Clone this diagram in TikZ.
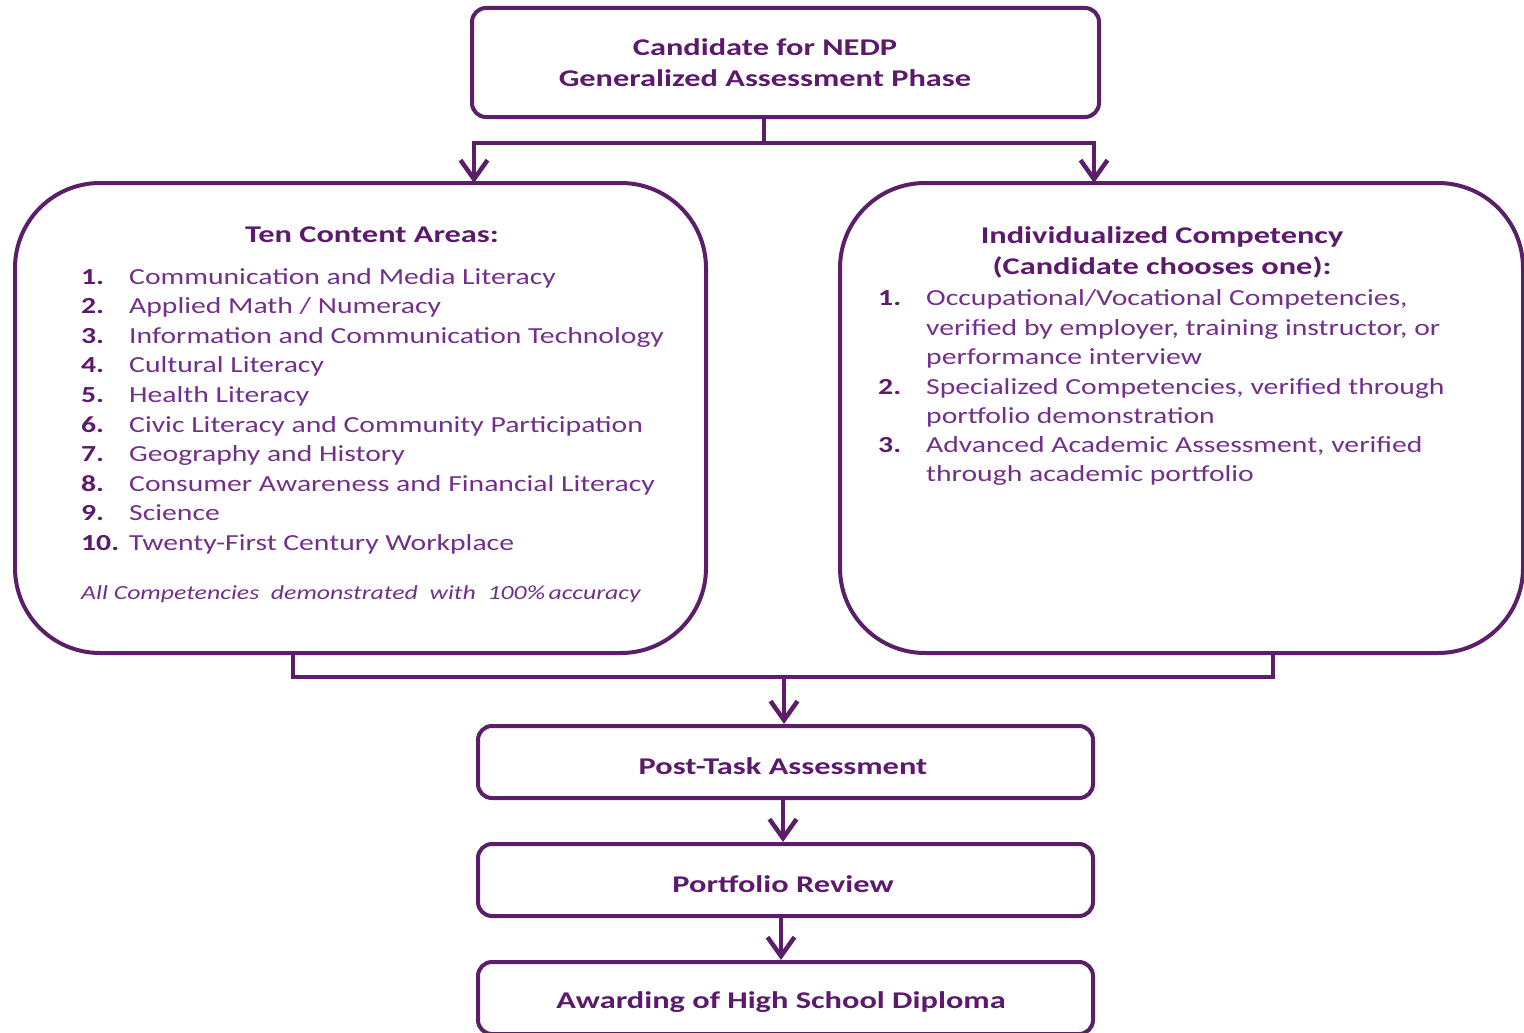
\documentclass[tikz,border=0pt]{standalone}
\usepackage{fontspec}
\setmainfont{Carlito}[FakeStretch=1.29]
\newfontfamily\boldfam{Carlito}[FakeStretch=1.35]
\usetikzlibrary{arrows.meta}
\definecolor{linec}{HTML}{5B1F69}
\definecolor{boldc}{HTML}{5C1A6C}
\definecolor{txtc}{HTML}{72308A}
\begin{document}
\begin{tikzpicture}[x=1pt,y=-1pt,
  box/.style={draw=linec,line width=4pt,rounded corners=14pt,fill=white},
  bigbox/.style={draw=linec,line width=4pt,rounded corners=85pt},
  conn/.style={draw=linec,line width=4.5pt},
  arr/.style={conn,-{Straight Barb[length=19pt,width=27pt,line width=4.5pt]}},
  btxt/.style={text=boldc,font=\fontsize{24}{30}\boldfam\bfseries,align=center,inner sep=0pt},
  ltxt/.style={text=txtc,font=\fontsize{23}{30}\selectfont,anchor=base west,inner sep=0pt},
  lnum/.style={text=boldc,font=\fontsize{23}{30}\selectfont\bfseries,anchor=base west,inner sep=0pt}
  ]
\useasboundingbox (0,0) rectangle (1524,1033);
\begin{scope}
\clip (0,0) rectangle (1524,1033);
% boxes
\node[box,minimum width=627pt,minimum height=109pt] (top) at (785.5,62.5) {};
\node[bigbox,minimum width=691pt,minimum height=470pt] (left) at (360.5,418) {};
\node[bigbox,minimum width=683pt,minimum height=470pt] (right) at (1181.5,418) {};
\node[box,minimum width=615pt,minimum height=72pt] (post) at (785.5,762) {};
\node[box,minimum width=615pt,minimum height=72pt] (port) at (785.5,880) {};
\node[box,minimum width=615pt,minimum height=72pt] (award) at (785.5,998) {};
% top text
\node[btxt] (t1) at (765,47) {Candidate for NEDP};
\node[btxt] (t2) at (765,78) {Generalized Assessment Phase};
% left text
\node[btxt] (lh) at (372,235) {Ten Content Areas:};
\foreach \n/\t [count=\i from 0] in {1./{Communication and Media Literacy},2./{Applied Math / Numeracy},3./{Information and Communication Technology},4./{Cultural Literacy},5./{Health Literacy},6./{Civic Literacy and Community Participation},7./{Geography and History},8./{Consumer Awareness and Financial Literacy},9./{Science},10./{Twenty-First Century Workplace}}{
  \node[lnum] (ln\i) at (81,{284+29.6*\i}) {\n};
  \node[ltxt] (li\i) at (129,{284+29.6*\i}) {\t};
}
\node[ltxt,font=\fontsize{20}{24}\selectfont\itshape] (lnote) at (81,599) {All Competencies\ \ demonstrated\ \ with\ \ 100\%\,accuracy};
% right text
\node[btxt] (rh1) at (1162,237) {Individualized Competency};
\node[btxt] (rh2) at (1162,267) {(Candidate chooses one):};
\node[lnum] (rn1) at (878,305) {1.};
\node[lnum] (rn2) at (878,394) {2.};
\node[lnum] (rn3) at (878,452) {3.};
\node[ltxt] (r1) at (926,305) {Occupational/Vocational Competencies,};
\node[ltxt] (r2) at (926,335) {verified by employer, training instructor, or};
\node[ltxt] (r3) at (926,364) {performance interview};
\node[ltxt] (r4) at (926,394) {Specialized Competencies, verified through};
\node[ltxt] (r5) at (926,423) {portfolio demonstration};
\node[ltxt] (r6) at (926,452) {Advanced Academic Assessment, verified};
\node[ltxt] (r7) at (926,481) {through academic portfolio};
% bottom texts
\node[btxt] (pt) at (783,766) {Post-Task Assessment};
\node[btxt] (pr) at (783,884) {Portfolio Review};
\node[btxt] (aw) at (781,1002) {Awarding of High School Diploma};
% connectors
\coordinate (topout) at (764,117);
\coordinate (split) at (764,143);
\coordinate (leftin) at (474,183);
\coordinate (rightin) at (1094,183);
\draw[conn] (topout) -- (split);
\draw[arr] (split) -| (leftin);
\draw[arr] (split) -| (rightin);
\coordinate (lout) at (293,653);
\coordinate (rout) at (1273,653);
\coordinate (merge) at (784,677);
\draw[conn] (lout) |- (merge) -| (rout);
\draw[arr] (merge) -- (merge |- post.north);
\draw[arr] (post.south -| 783,0) -- (port.north -| 783,0);
\draw[arr] (port.south -| 781,0) -- (award.north -| 781,0);
\end{scope}
\end{tikzpicture}
\end{document}
